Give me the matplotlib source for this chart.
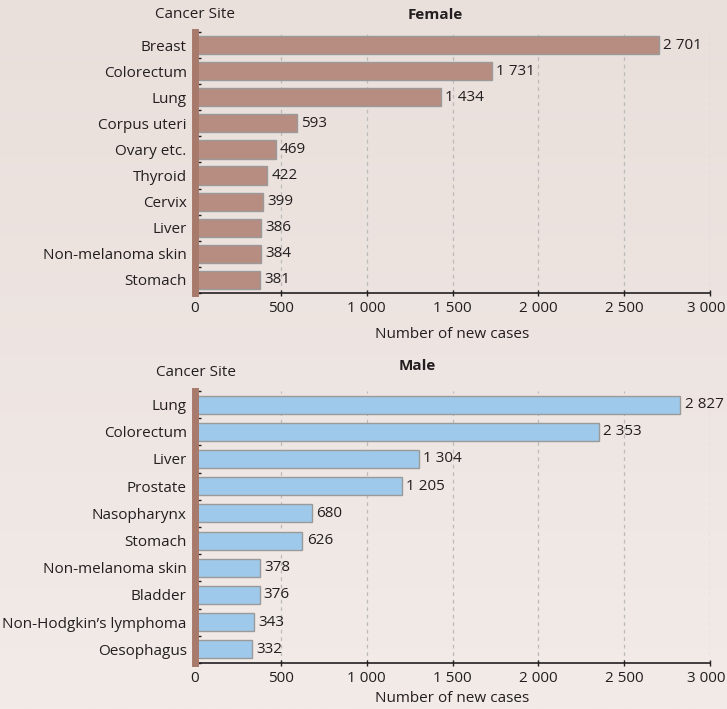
import matplotlib
matplotlib.use("Agg")
import matplotlib.pyplot as plt
from matplotlib.ticker import FixedLocator, FuncFormatter
from matplotlib.colors import LinearSegmentedColormap
from matplotlib.transforms import ScaledTranslation
import numpy as np

female_sites = ["Breast", "Colorectum", "Lung", "Corpus uteri", "Ovary etc.",
                "Thyroid", "Cervix", "Liver", "Non-melanoma skin", "Stomach"]
female_values = [2701, 1731, 1434, 593, 469, 422, 399, 386, 384, 381]

male_sites = ["Lung", "Colorectum", "Liver", "Prostate", "Nasopharynx", "Stomach",
              "Non-melanoma skin", "Bladder", "Non-Hodgkin\u2019s lymphoma", "Oesophagus"]
male_values = [2827, 2353, 1304, 1205, 680, 626, 378, 376, 343, 332]

x_ticks = [0, 500, 1000, 1500, 2000, 2500, 3000]

plt.rcParams['font.family'] = ['Open Sans', 'DejaVu Sans']
FS = 11
TXT = '#231f20'

W, H = 727, 709
fig = plt.figure(figsize=(W / 100, H / 100), dpi=100)

# background gradient
bg = fig.add_axes([0, 0, 1, 1], zorder=-10)
grad = np.linspace(0, 1, 256).reshape(-1, 1)
cmap = LinearSegmentedColormap.from_list("bg", ["#e9dfdb", "#f2ebe8"])
bg.imshow(grad, aspect='auto', cmap=cmap, extent=[0, 1, 0, 1], origin='upper')
bg.axis('off')


def fmt(v, pos=None):
    return f"{int(v):,}".replace(",", " ")


def panel(rect, sites, values, color, bar_h, lpad):
    ax = fig.add_axes(rect)
    ax.set_facecolor('none')
    y = np.arange(len(sites))
    ax.barh(y, values, height=bar_h, color=color, edgecolor='#9a9a9a', linewidth=1.0, zorder=3)
    ax.set_ylim(len(sites) - 0.5, -0.5)
    ax.set_xlim(0, 3000)
    ax.set_yticks(y)
    ax.set_yticklabels(sites, fontsize=FS, color=TXT)
    ax.tick_params(axis='y', length=0, pad=6)
    ax.yaxis.set_minor_locator(FixedLocator(np.arange(len(sites) + 1) - 0.5))
    ax.tick_params(axis='y', which='minor', length=4, direction='in', color=TXT, width=1)
    ax.xaxis.set_major_locator(FixedLocator(x_ticks))
    ax.xaxis.set_major_formatter(FuncFormatter(fmt))
    ax.tick_params(axis='x', length=5, direction='inout', color=TXT, width=1,
                   labelsize=FS, labelcolor=TXT, pad=3)
    for t in x_ticks[1:]:
        ax.axvline(t, color='#bbbbbb', linestyle=(0, (3, 3)), linewidth=0.9, zorder=1)
    for s in ['top', 'right']:
        ax.spines[s].set_visible(False)
    ax.spines['bottom'].set_color(TXT)
    ax.spines['bottom'].set_linewidth(1.2)
    ax.spines['left'].set_color('#a87a6c')
    ax.spines['left'].set_linewidth(5)
    ax.spines['left'].set_zorder(4)
    for yi, v in zip(y, values):
        ax.text(v + 25, yi, fmt(v), va='center', ha='left', fontsize=FS, color=TXT)
    ax.set_xlabel("Number of new cases", fontsize=FS, color=TXT, labelpad=lpad)
    fig.canvas.draw()
    last = ax.get_xticklabels()[-1]
    last.set_transform(last.get_transform() + ScaledTranslation(-4 / 100, 0, fig.dpi_scale_trans))
    return ax


top = panel([195 / W, 1 - 293 / H, (710 - 195) / W, (293 - 32) / H],
            female_sites, female_values, '#b88d81', 0.70, 8)
bot = panel([195 / W, 1 - 663 / H, (710 - 195) / W, (663 - 391) / H],
            male_sites, male_values, '#9fc9ea', 0.66, 4)

fig.text(195 / W, 1 - 14 / H, "Cancer Site", ha='center', va='center', fontsize=FS, color=TXT)
fig.text(435 / W, 1 - 15 / H, "Female", ha='center', va='center', fontsize=FS, fontweight='bold', color=TXT)
fig.text(196 / W, 1 - 372 / H, "Cancer Site", ha='center', va='center', fontsize=FS, color=TXT)
fig.text(417 / W, 1 - 366 / H, "Male", ha='center', va='center', fontsize=FS, fontweight='bold', color=TXT)

fig.savefig("out.png", dpi=100)
